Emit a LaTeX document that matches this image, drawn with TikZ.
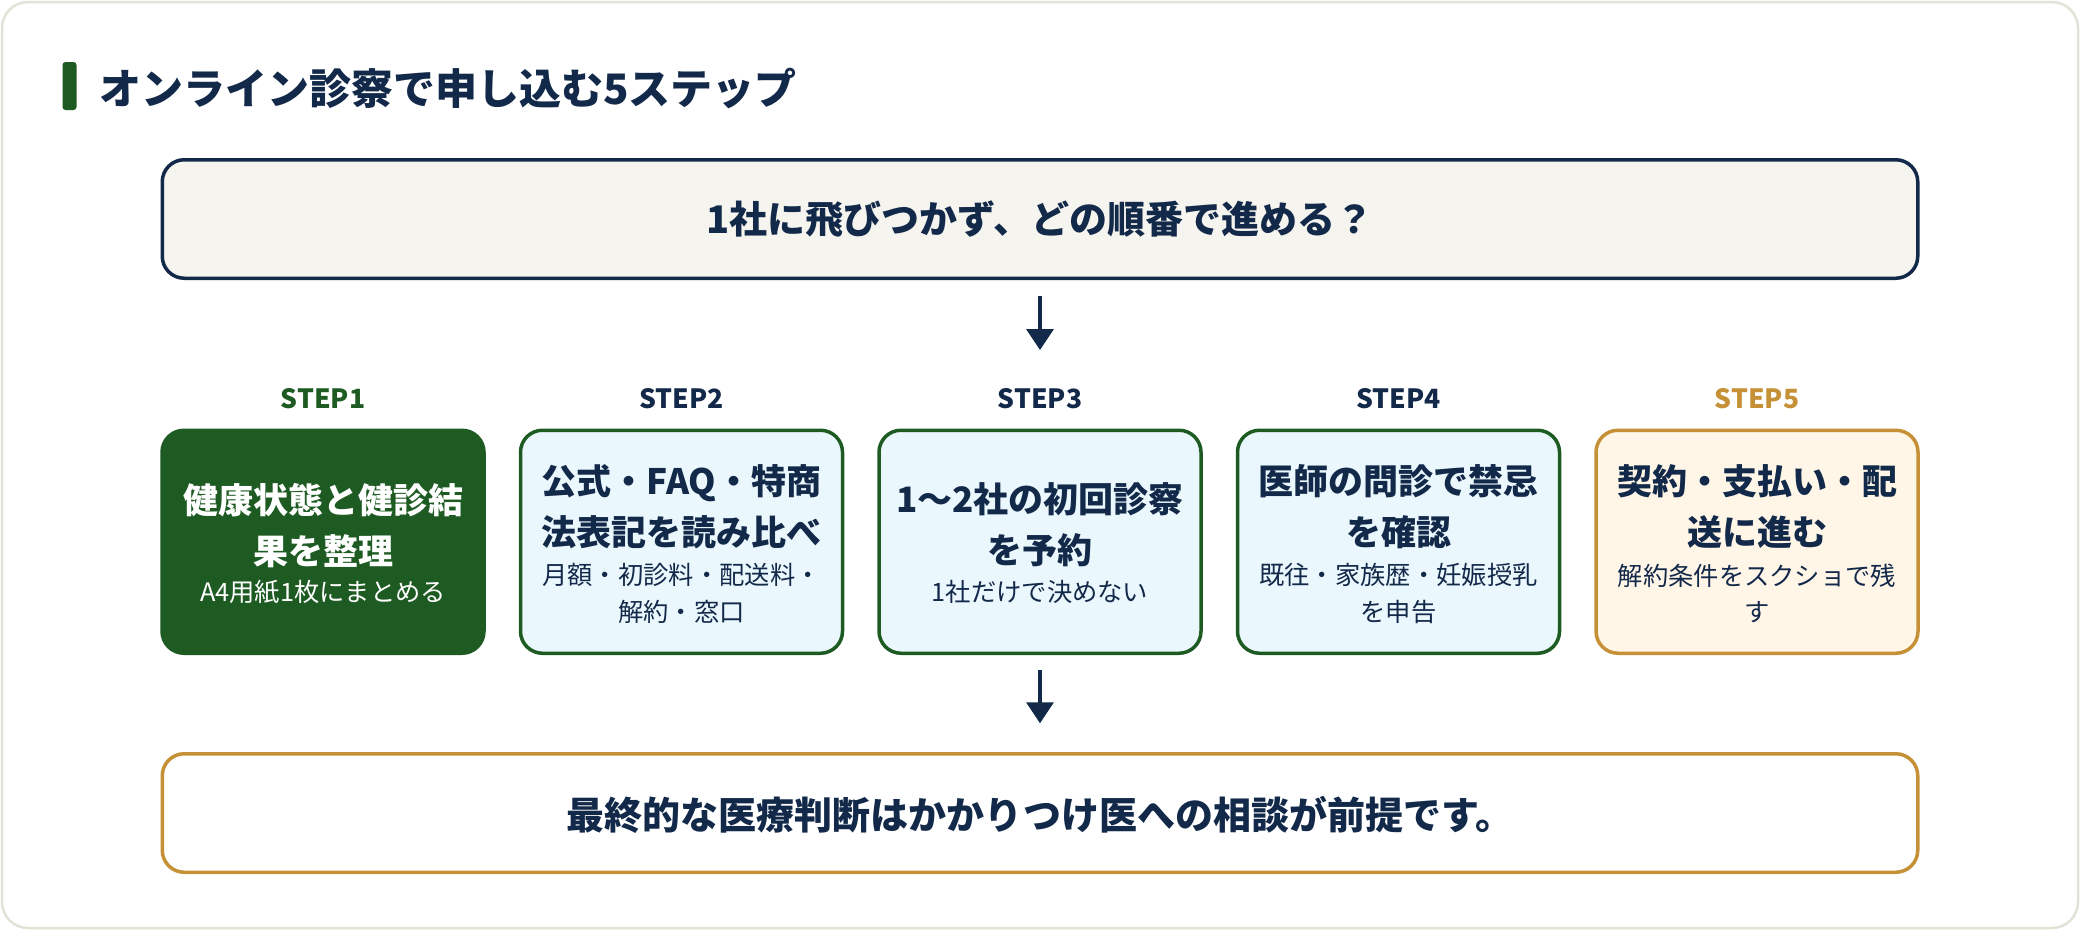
\documentclass[tikz,border=0pt]{standalone}
\usepackage{fontspec}
\setmainfont{Noto Sans CJK JP}
\usetikzlibrary{arrows.meta}
\definecolor{navy}{HTML}{13294A}
\definecolor{dgreen}{HTML}{1E5B22}
\definecolor{gold}{HTML}{C69136}
\definecolor{lblue}{HTML}{EAF7FC}
\definecolor{cream}{HTML}{FFF6E8}
\definecolor{paper}{HTML}{F5F4EE}
\definecolor{cardline}{HTML}{E4E1D6}
\tikzset{
  stepbox/.style={draw=dgreen, fill=lblue, line width=3.5pt, rounded corners=22pt,
    minimum width=322pt, minimum height=223pt, inner sep=0pt},
  widebox/.style={line width=3.5pt, rounded corners=22pt,
    minimum width=1755.5pt, minimum height=118.5pt, inner sep=0pt},
  steplabel/.style={font=\fontsize{26.5}{30}\selectfont\bfseries, inner sep=0pt},
  maintext/.style={font=\fontsize{35}{51}\selectfont\bfseries, text=navy, align=center, inner sep=0pt},
  subtext/.style={font=\fontsize{25.3}{36.7}\selectfont, text=navy, align=center, inner sep=0pt},
  widetext/.style={font=\fontsize{38}{45}\selectfont\bfseries, text=navy, inner sep=0pt},
  arr/.style={draw=navy, line width=3.3pt, -{Triangle[length=21pt,width=27pt]}}
}
\begin{document}
\begin{tikzpicture}[x=1pt,y=-1pt]
\useasboundingbox (0,0) rectangle (2080,930);
\fill[white] (0,0) rectangle (2080,930);
\draw[cardline, line width=2.5pt, rounded corners=26pt, fill=white] (2,2) rectangle (2078,928);

% title
\node (bar) [fill=dgreen, rounded corners=3pt, minimum width=14pt, minimum height=48pt, inner sep=0pt] at (69.5,86) {};
\node (title) [anchor=west, inner sep=0pt, text=navy, font=\fontsize{42}{50}\selectfont\bfseries] at (99,88) {オンライン診察で申し込む5ステップ};

% top question box
\node (top) [widebox, draw=navy, fill=paper] at (1040,219) {};
\node (toptext) [widetext] at (1040,219) {1社に飛びつかず、どの順番で進める？};

% step boxes
\node (s1) [stepbox, draw=dgreen, fill=dgreen] at (323,541.75) {};
\node (s2) [stepbox] at (681.5,541.75) {};
\node (s3) [stepbox] at (1040,541.75) {};
\node (s4) [stepbox] at (1398.5,541.75) {};
\node (s5) [stepbox, draw=gold, fill=cream] at (1757,541.75) {};

% step labels
\node (l1) [steplabel, text=dgreen] at (323,399) {STEP1};
\node (l2) [steplabel, text=navy] at (681.5,399) {STEP2};
\node (l3) [steplabel, text=navy] at (1040,399) {STEP3};
\node (l4) [steplabel, text=navy] at (1398.5,399) {STEP4};
\node (l5) [steplabel, text=gold] at (1757,399) {STEP5};

% step texts
\node (m1) [maintext, text=white] at (323,526) {健康状態と健診結\\果を整理};
\node (u1) [subtext, text=white] at (323,592) {A4用紙1枚にまとめる};

\node (m2) [maintext] at (681.5,507) {公式・FAQ・特商\\法表記を読み比べ};
\node (u2) [subtext] at (681.5,593.5) {月額・初診料・配送料・\\解約・窓口};

\node (m3) [maintext] at (1040,525) {1〜2社の初回診察\\を予約};
\node (u3) [subtext] at (1040,592) {1社だけで決めない};

\node (m4) [maintext] at (1398.5,507) {医師の問診で禁忌\\を確認};
\node (u4) [subtext] at (1398.5,593.5) {既往・家族歴・妊娠授乳\\を申告};

\node (m5) [maintext] at (1757,507) {契約・支払い・配\\送に進む};
\node (u5) [subtext] at (1757,593.5) {解約条件をスクショで残\\す};

% bottom box
\node (bot) [widebox, draw=gold, fill=white] at (1040,813) {};
\node (bottext) [widetext] at (1040,815) {最終的な医療判断はかかりつけ医への相談が前提です。};

% arrows
\draw[arr, shorten <=15.75pt, shorten >=78.5pt] (top.south) -- (s3.north);
\draw[arr, shorten <=14.75pt, shorten >=28.75pt] (s3.south) -- (bot.north);
\end{tikzpicture}
\end{document}
